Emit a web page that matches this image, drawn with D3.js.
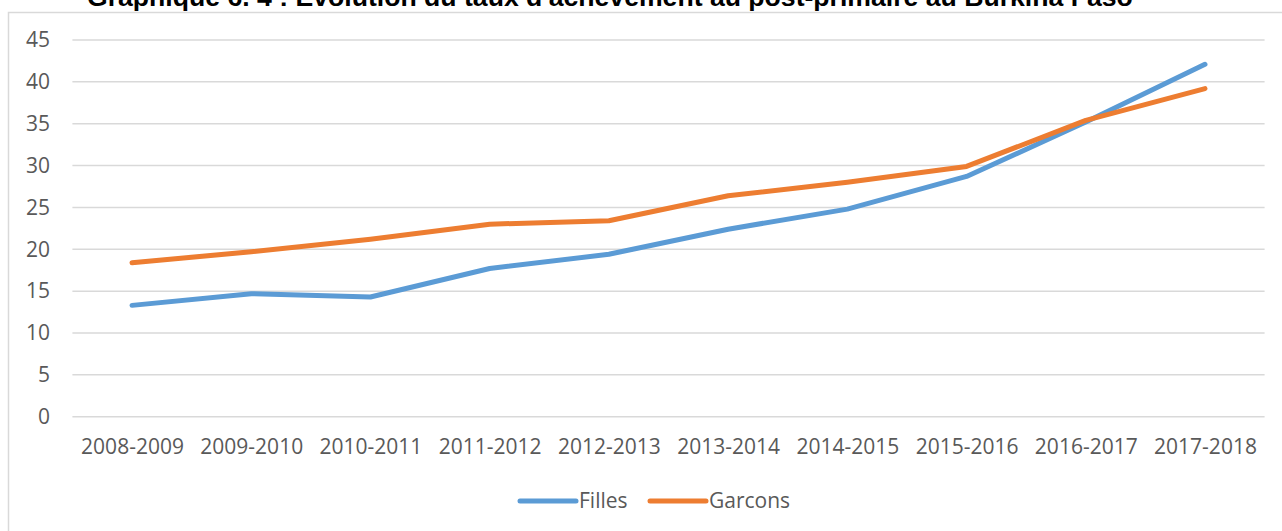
<!DOCTYPE html>
<html>
<head>
<meta charset="utf-8">
<script src="https://cdn.jsdelivr.net/npm/d3@7"></script>
<style>
  html, body { margin: 0; padding: 0; background: #fff; }
  svg { display: block; }
</style>
</head>
<body>
<div id="chart"></div>
<script>
// données
const categories = ["2008-2009", "2009-2010", "2010-2011", "2011-2012", "2012-2013",
                    "2013-2014", "2014-2015", "2015-2016", "2016-2017", "2017-2018"];
const filles  = [13.3, 14.7, 14.3, 17.7, 19.4, 22.4, 24.8, 28.7, 35.2, 42.1];
const garcons = [18.4, 19.7, 21.2, 23.0, 23.4, 26.4, 28.0, 29.9, 35.4, 39.2];
const yTicks = [0, 5, 10, 15, 20, 25, 30, 35, 40, 45];
const seriesNames = ["Filles", "Garcons"];
const seriesColors = ["#5b9bd5", "#ed7d31"];

const width = 1282, height = 531;
const titleText = "Graphique 6. 4 : Evolution du taux d'achèvement au post-primaire au Burkina Faso";

const svg = d3.select("#chart").append("svg")
    .attr("width", width)
    .attr("height", height)
    .attr("viewBox", [0, 0, width, height]);

// cadre du graphique
svg.append("rect")
    .attr("x", 8.5)
    .attr("y", 12.5)
    .attr("width", width)
    .attr("height", height)
    .attr("fill", "#fff")
    .attr("stroke", "#d9d9d9")
    .attr("stroke-width", 1.5);

// titre (coupé en haut comme sur l'original)
const title = svg.append("text")
    .attr("x", 87)
    .attr("y", 6)
    .attr("font-family", "'Liberation Sans', Arial, sans-serif")
    .attr("font-weight", "bold")
    .attr("font-size", 24)
    .attr("fill", "#000")
    .text(titleText);
const tw = title.node().getComputedTextLength();
title.attr("font-size", 24 * 1046 / tw);

const x = d3.scalePoint()
    .domain(categories)
    .range([72.4, 1264.6])
    .padding(0.5);

const y = d3.scaleLinear()
    .domain([0, 45])
    .range([416.7, 40]);

const font = "'Open Sans', 'Noto Sans', sans-serif";

// grille horizontale
svg.append("g")
    .selectAll("line")
    .data(yTicks)
    .join("line")
    .attr("x1", 72.4)
    .attr("x2", 1264.6)
    .attr("y1", d => y(d))
    .attr("y2", d => y(d))
    .attr("stroke", "#d9d9d9")
    .attr("stroke-width", 1.5);

// axe des y
const yAxis = svg.append("g")
    .attr("transform", "translate(50,0)")
    .call(d3.axisLeft(y).tickValues(yTicks).tickSize(0).tickPadding(0));
yAxis.select(".domain").remove();
yAxis.selectAll("text")
    .attr("font-family", font)
    .attr("font-size", 21)
    .attr("fill", "#595959");

// axe des x
const xAxis = svg.append("g")
    .attr("transform", "translate(0,416.7)")
    .call(d3.axisBottom(x).tickSize(0).tickPadding(22));
xAxis.select(".domain").remove();
xAxis.selectAll("text")
    .attr("font-family", font)
    .attr("font-size", 21)
    .attr("fill", "#595959");

// courbes
const line = d3.line()
    .x((d, i) => x(categories[i]))
    .y(d => y(d));

svg.append("g")
    .selectAll("path")
    .data([filles, garcons])
    .join("path")
    .attr("d", line)
    .attr("fill", "none")
    .attr("stroke", (d, i) => seriesColors[i])
    .attr("stroke-width", 5)
    .attr("stroke-linecap", "round")
    .attr("stroke-linejoin", "round");

// légende
const legendX = [520, 650];
const legend = svg.append("g")
    .selectAll("g")
    .data(seriesNames)
    .join("g")
    .attr("transform", (d, i) => `translate(${legendX[i]},501)`);

legend.append("line")
    .attr("x1", 0)
    .attr("x2", 56)
    .attr("stroke", (d, i) => seriesColors[i])
    .attr("stroke-width", 5)
    .attr("stroke-linecap", "round");

legend.append("text")
    .attr("x", 59)
    .attr("dy", "0.35em")
    .attr("font-family", font)
    .attr("font-size", 21)
    .attr("fill", "#595959")
    .text(d => d);
</script>
</body>
</html>
